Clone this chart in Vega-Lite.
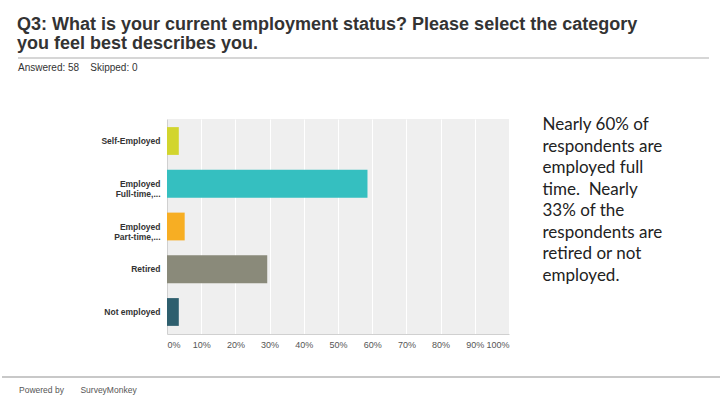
{
  "$schema": "https://vega.github.io/schema/vega-lite/v6.json",
  "background": "white",
  "padding": {"left": 0, "top": 16, "right": 0, "bottom": 0},
  "title": {
    "text": ["Q3: What is your current employment status? Please select the category", "you feel best describes you."],
    "anchor": "start",
    "frame": "group",
    "dx": -150,
    "font": "Liberation Sans",
    "fontSize": 18,
    "fontWeight": "bold",
    "color": "#333333",
    "lineHeight": 19,
    "offset": 4
  },
  "spacing": 4,
  "config": {
    "view": {"stroke": null},
    "font": "Liberation Sans"
  },
  "vconcat": [
    {
      "width": 342,
      "height": 1,
      "data": {"values": [{"a": 0, "b": 1, "y": 0}]},
      "mark": {"type": "rule", "color": "#c8c8c8", "strokeWidth": 1.5},
      "encoding": {
        "x": {"field": "a", "type": "quantitative", "scale": {"domain": [0.21563, 0.71056], "nice": false, "zero": false}, "axis": null},
        "x2": {"field": "b"},
        "y": {"field": "y", "type": "quantitative", "scale": {"domain": [0, 1]}, "axis": null}
      }
    },
    {
      "title": {
        "text": "Answered: 58\u00a0\u00a0\u00a0\u00a0Skipped: 0",
        "anchor": "start",
        "frame": "group",
        "dx": -149,
        "font": "Liberation Sans",
        "fontSize": 10,
        "fontWeight": "normal",
        "color": "#333333",
        "offset": 43
      },
      "spacing": 33,
      "hconcat": [
        {
          "width": 342,
          "height": 215,
          "view": {"fill": "#efefef", "stroke": null},
          "data": {
            "values": [
              {"label": "Self-Employed", "pct": 0.0345},
              {"label": "Employed|Full-time,...", "pct": 0.5862},
              {"label": "Employed|Part-time,...", "pct": 0.0517},
              {"label": "Retired", "pct": 0.2931},
              {"label": "Not employed", "pct": 0.0345}
            ]
          },
          "mark": {"type": "bar"},
          "encoding": {
            "y": {
              "field": "label",
              "type": "nominal",
              "sort": null,
              "scale": {"paddingInner": 0.35, "paddingOuter": 0.19},
              "axis": {
                "title": null,
                "labelExpr": "split(datum.value, '|')",
                "labelFont": "Liberation Sans",
                "labelFontSize": 8.5,
                "labelFontWeight": "bold",
                "labelColor": "#333333",
                "labelLineHeight": 10,
                "labelPadding": 7,
                "ticks": false,
                "domain": true,
                "domainColor": "#d0d0d0",
                "minExtent": 165,
                "maxExtent": 165
              }
            },
            "x": {
              "field": "pct",
              "type": "quantitative",
              "scale": {"domain": [0, 1], "nice": false},
              "axis": {
                "title": null,
                "values": [0, 0.1, 0.2, 0.3, 0.4, 0.5, 0.6, 0.7, 0.8, 0.9, 1],
                "format": "%",
                "labelFlush": true,
                "labelFont": "Liberation Sans",
                "labelFontSize": 9,
                "labelColor": "#555555",
                "labelPadding": 6,
                "ticks": false,
                "grid": true,
                "gridColor": "#ffffff",
                "gridWidth": 1,
                "gridOpacity": 1,
                "domain": true,
                "domainColor": "#d0d0d0"
              }
            },
            "color": {
              "field": "label",
              "type": "nominal",
              "scale": {
                "domain": ["Self-Employed", "Employed|Full-time,...", "Employed|Part-time,...", "Retired", "Not employed"],
                "range": ["#d2d52e", "#35bfc0", "#f7ae23", "#8a8a7a", "#2e5f6e"]
              },
              "legend": null
            }
          }
        },
        {
          "width": 1,
          "height": 12,
          "data": {"values": [{"note": "Nearly 60% of\nrespondents are\nemployed full\ntime.\u00a0 Nearly\n33% of the\nrespondents are\nretired or not\nemployed."}]},
          "mark": {
            "type": "text",
            "align": "left",
            "baseline": "middle",
            "lineBreak": "\n",
            "lineHeight": 21.5,
            "font": "Lato",
            "fontSize": 17,
            "color": "#222222"
          },
          "encoding": {
            "text": {"field": "note", "type": "nominal"}
          }
        }
      ]
    },
    {
      "width": 342,
      "height": 24,
      "title": {
        "text": "Powered by\u00a0\u00a0\u00a0\u00a0\u00a0\u00a0\u00a0SurveyMonkey",
        "orient": "bottom",
        "anchor": "start",
        "frame": "group",
        "dx": -148,
        "font": "Liberation Sans",
        "fontSize": 8.5,
        "fontWeight": "normal",
        "color": "#555555",
        "offset": 8
      },
      "data": {"values": [{"a": 0, "b": 1, "y": 0}]},
      "mark": {"type": "rule", "color": "#c8c8c8", "strokeWidth": 2},
      "encoding": {
        "x": {"field": "a", "type": "quantitative", "scale": {"domain": [0.22917, 0.70417], "nice": false, "zero": false}, "axis": null},
        "x2": {"field": "b"},
        "y": {"field": "y", "type": "quantitative", "scale": {"domain": [0, 1]}, "axis": null}
      }
    }
  ]
}
